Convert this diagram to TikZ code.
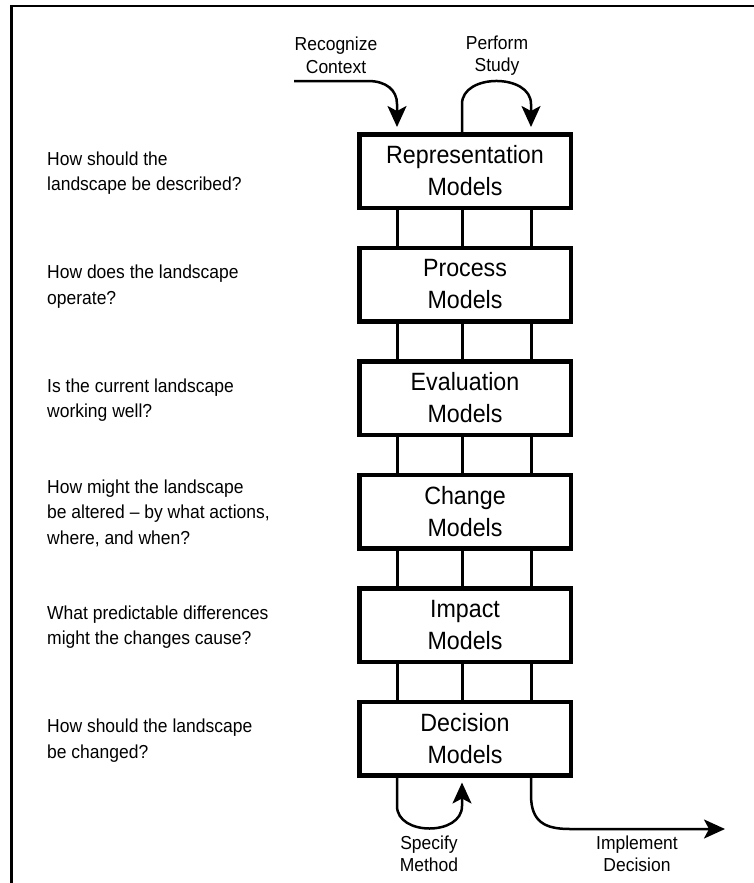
\documentclass[tikz,border=0pt]{standalone}
\usepackage{fontspec}
\setmainfont{Liberation Sans}
\newfontfamily\narrowfont[FakeStretch=0.93]{Liberation Sans}
\usetikzlibrary{arrows.meta}
\begin{document}
\begin{tikzpicture}[x=1pt,y=-1pt,
  model/.style={draw, line width=4.5pt, fill=white, minimum width=211.5pt, minimum height=73.5pt,
    inner sep=0pt, align=center, font=\narrowfont\fontsize{25}{32}\selectfont},
  link/.style={line width=3pt},
  question/.style={anchor=base west, align=left, inner sep=0pt, font=\narrowfont\fontsize{18.8}{25.7}\selectfont},
  lab/.style={anchor=base, align=center, inner sep=0pt, font=\narrowfont\fontsize{18.8}{22.3}\selectfont},
  arr/.style={line width=2.5pt, -{Stealth[length=21pt,width=19pt,inset=5pt]}},
  frame/.style={line width=2.5pt, line join=miter}
]
\useasboundingbox (0,0) rectangle (753,883);
\draw[frame] (11.5,900) -- (11.5,6) -- (770,6);

\coordinate (c1) at (397,0);
\coordinate (c2) at (462,0);
\coordinate (c3) at (531,0);

\node[model] (rep)  at (465,171)   {Representation\\Models};
\node[model] (proc) at (465,284.5) {Process\\Models};
\node[model] (eval) at (465,398)   {Evaluation\\Models};
\node[model] (chg)  at (465,511.5) {Change\\Models};
\node[model] (imp)  at (465,625)   {Impact\\Models};
\node[model] (dec)  at (465,738.5) {Decision\\Models};

\foreach \a/\b in {rep/proc,proc/eval,eval/chg,chg/imp,imp/dec}{
  \foreach \c in {c1,c2,c3}{
    \draw[link] (\a.south -| \c) -- (\b.north -| \c);
  }
}

% base anchor = baseline of the last line
\node[question] (q1) at (47,190.7) {How should the\\landscape be described?};
\node[question] (q2) at (47,304.2) {How does the landscape\\operate?};
\node[question] (q3) at (47,417.7) {Is the current landscape\\working well?};
\node[question] (q4) at (47,544.4) {How might the landscape\\be altered – by what actions,\\where, and when?};
\node[question] (q5) at (47,644.7) {What predictable differences\\might the changes cause?};
\node[question] (q6) at (47,758.2) {How should the landscape\\be changed?};

\node[lab] (rc) at (336,73.3) {Recognize\\Context};
\node[lab] (ps) at (497,71.7) {Perform\\Study};
\node[lab] (sm) at (429,871.7) {Specify\\Method};
\node[lab] (id) at (637,871.7) {Implement\\Decision};

\coordinate (rcs) at (294,81);
\coordinate (ide) at (725,829);

\draw[arr, shorten >=5pt] (rcs) -- (368,81) .. controls (386,81) and (397,90) .. (397,104) -- (rep.north -| c1);
\draw[arr, shorten >=5pt] (rep.north -| c2) -- (462,104) .. controls (462,73.3) and (531,73.3) .. (531,104) -- (rep.north -| c3);
\draw[arr, shorten >=5pt] (dec.south -| c1) -- (397,806) .. controls (397,836) and (462,836) .. (462,806) -- (dec.south -| c2);
\draw[arr] (dec.south -| c3) -- (531,795) .. controls (531,822) and (545,829) .. (570,829) -- (ide);
\end{tikzpicture}
\end{document}
